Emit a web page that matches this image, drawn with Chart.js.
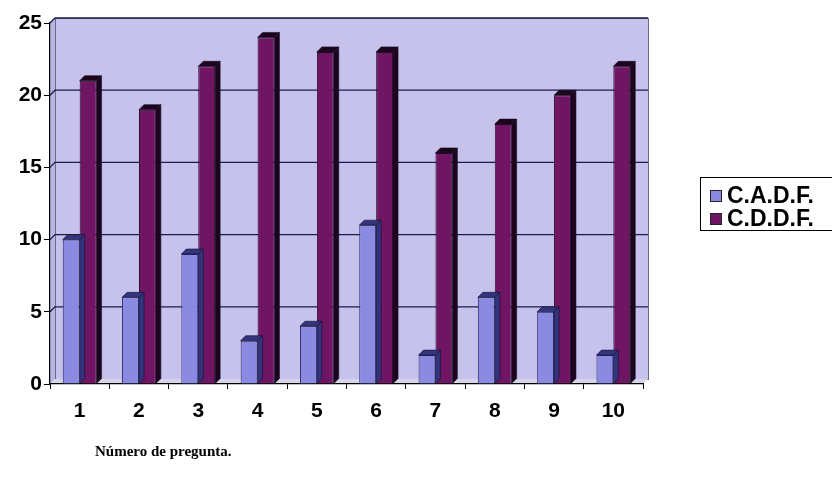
<!DOCTYPE html>
<html>
<head>
<meta charset="utf-8">
<script src="https://cdn.jsdelivr.net/npm/chart.js@4.4.1/dist/chart.umd.min.js"></script>
<style>
  html, body { margin: 0; padding: 0; background: #fff; overflow: hidden; }
  #wrap { width: 832px; height: 482px; position: relative; }
</style>
</head>
<body>
<div id="wrap"><canvas id="chart"></canvas></div>
<script>
// datos
const preguntas = ["1", "2", "3", "4", "5", "6", "7", "8", "9", "10"];
const cadf = [10, 6, 9, 3, 4, 11, 2, 6, 5, 2];
const cddf = [21, 19, 22, 24, 23, 23, 16, 18, 20, 22];
const yTicks = [0, 5, 10, 15, 20, 25];
const seriesNames = ["C.A.D.F.", "C.D.D.F."];
const axisTitle = "Número de pregunta.";

const DX = 5, DY = -5; // profundidad del efecto 3D
const faceColors = ["#8a8ae2", "#701464"];
const darkColors = ["#34347e", "#1e041c"];

// paredes y lineas de division (efecto 3D)
const wallsPlugin = {
  id: "walls",
  beforeDraw(chart) {
    const { ctx, chartArea: ca, scales } = chart;
    ctx.save();
    // pared de fondo
    ctx.fillStyle = "#c6c2ec";
    ctx.fillRect(ca.left + DX, ca.top + DY, ca.right - ca.left, ca.bottom - ca.top);
    ctx.strokeStyle = "#6a6a8a";
    ctx.lineWidth = 1;
    ctx.strokeRect(ca.left + DX + 0.5, ca.top + DY + 0.5, ca.right - ca.left, ca.bottom - ca.top);
    // pared lateral
    ctx.fillStyle = "#b9b5e2";
    ctx.beginPath();
    ctx.moveTo(ca.left, ca.top);
    ctx.lineTo(ca.left + DX, ca.top + DY);
    ctx.lineTo(ca.left + DX, ca.bottom + DY);
    ctx.lineTo(ca.left, ca.bottom);
    ctx.closePath();
    ctx.fill();
    // piso
    ctx.fillStyle = "#d6d4ea";
    ctx.beginPath();
    ctx.moveTo(ca.left, ca.bottom);
    ctx.lineTo(ca.left + DX, ca.bottom + DY);
    ctx.lineTo(ca.right + DX, ca.bottom + DY);
    ctx.lineTo(ca.right, ca.bottom);
    ctx.closePath();
    ctx.fill();
    // lineas de division
    ctx.strokeStyle = "#1c1c4a";
    ctx.lineWidth = 1.3;
    scales.y.ticks.forEach(t => {
      if (t.value === 0) return;
      const y = scales.y.getPixelForValue(t.value);
      ctx.beginPath();
      ctx.moveTo(ca.left, y);
      ctx.lineTo(ca.left + DX, y + DY);
      ctx.lineTo(ca.right + DX, y + DY);
      ctx.stroke();
    });
    ctx.restore();
  }
};

// caras superior y lateral de cada barra
const depthPlugin = {
  id: "depth",
  afterDatasetDraw(chart, args) {
    const { ctx } = chart;
    const i = args.index;
    ctx.save();
    ctx.fillStyle = darkColors[i];
    ctx.strokeStyle = "#10102a";
    ctx.lineWidth = 0.6;
    args.meta.data.forEach(bar => {
      const p = bar.getProps(["x", "y", "base", "width"], true);
      const l = p.x - p.width / 2, r = p.x + p.width / 2;
      ctx.beginPath();
      ctx.moveTo(r, p.y);
      ctx.lineTo(r + DX, p.y + DY);
      ctx.lineTo(r + DX, p.base + DY);
      ctx.lineTo(r, p.base);
      ctx.closePath();
      ctx.fill();
      ctx.stroke();
      ctx.beginPath();
      ctx.moveTo(l, p.y);
      ctx.lineTo(l + DX, p.y + DY);
      ctx.lineTo(r + DX, p.y + DY);
      ctx.lineTo(r, p.y);
      ctx.closePath();
      ctx.fill();
      ctx.stroke();
    });
    ctx.restore();
  }
};

// leyenda y titulo del eje
const extrasPlugin = {
  id: "extras",
  afterDraw(chart) {
    const { ctx } = chart;
    ctx.save();
    ctx.strokeStyle = "#000";
    ctx.lineWidth = 1;
    ctx.strokeRect(700.5, 177.5, 150, 53);
    ctx.font = "bold 23px 'Liberation Sans', Arial, sans-serif";
    ctx.textBaseline = "middle";
    chart.data.datasets.forEach((ds, i) => {
      const y = 196 + i * 23;
      ctx.fillStyle = ds.backgroundColor;
      ctx.fillRect(710, y - 6, 12, 12);
      ctx.strokeStyle = "#222";
      ctx.strokeRect(710.5, y - 5.5, 11, 11);
      ctx.fillStyle = "#000";
      ctx.fillText(ds.label, 727, y + 1);
    });
    ctx.font = "bold 15px 'Liberation Serif', 'Times New Roman', serif";
    ctx.fillText(axisTitle, 95, 452);
    ctx.restore();
  }
};

const tickFont = { family: "'Liberation Sans', Arial, sans-serif", size: 21, weight: "bold" };

new Chart(document.getElementById("chart"), {
  type: "bar",
  data: {
    labels: preguntas,
    datasets: [
      {
        label: seriesNames[0],
        data: cadf,
        backgroundColor: faceColors[0],
        borderColor: "#2a2a6a",
        borderWidth: 1,
      },
      {
        label: seriesNames[1],
        data: cddf,
        backgroundColor: faceColors[1],
        borderColor: "#2a0828",
        borderWidth: 1,
      },
    ],
  },
  options: {
    responsive: true,
    maintainAspectRatio: false,
    animation: false,
    devicePixelRatio: 1,
    layout: { padding: { top: 23, right: 189, left: 0, bottom: 0 } },
    datasets: { bar: { categoryPercentage: 0.57, barPercentage: 1 } },
    scales: {
      x: {
        grid: { offset: true, drawOnChartArea: false, tickLength: 5, color: "#000" },
        border: { display: true, color: "#000", width: 1.2 },
        ticks: { color: "#000", font: tickFont, padding: 10, maxRotation: 0 },
        afterFit(scale) { scale.height = 98; },
      },
      y: {
        min: 0,
        max: 25,
        grid: { drawOnChartArea: false, tickLength: 6, color: "#000" },
        border: { display: true, color: "#000", width: 1.2 },
        ticks: { color: "#000", font: tickFont, padding: 2 },
        afterBuildTicks(scale) { scale.ticks = yTicks.map(v => ({ value: v })); },
        afterFit(scale) { scale.width = 50; },
      },
    },
    plugins: {
      legend: { display: false },
      tooltip: { enabled: false },
    },
  },
  plugins: [wallsPlugin, depthPlugin, extrasPlugin],
});
</script>
</body>
</html>
